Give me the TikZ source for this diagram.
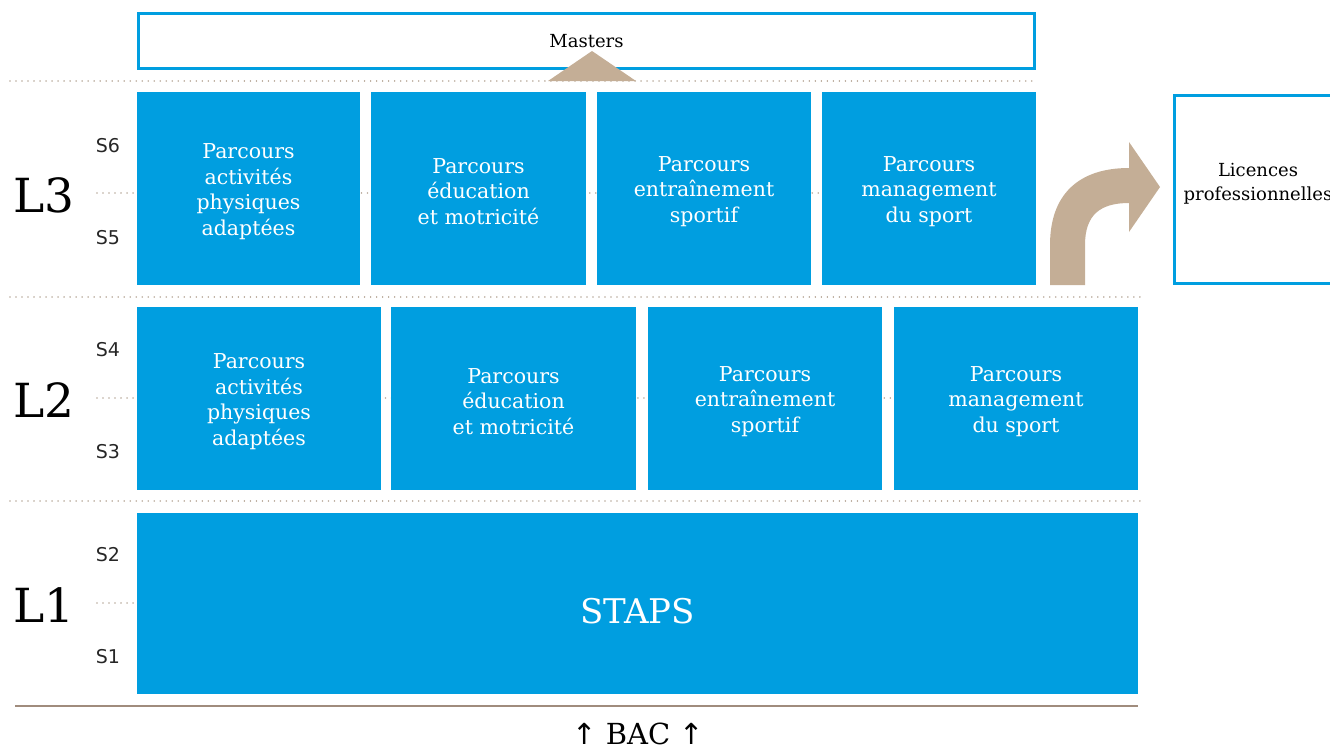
\documentclass[tikz,border=0pt]{standalone}
\usepackage{fontspec}
\setmainfont{DejaVu Serif}
\setsansfont{DejaVu Sans}
\definecolor{bblue}{RGB}{0,158,224}
\definecolor{tan}{RGB}{196,174,150}
\definecolor{dotc}{RGB}{185,170,155}
\definecolor{basec}{RGB}{160,140,125}
\tikzset{
  blk/.style={fill=bblue, draw=none, text=white, align=center, yshift=-3pt, font=\fontsize{20.5}{25.5}\selectfont},
  obox/.style={draw=bblue, line width=3pt, fill=white, align=center},
  dotl/.style={draw=dotc, line width=1.6pt, line cap=round, dash pattern=on 0.01pt off 6pt},
  lvl/.style={font=\fontsize{47}{47}\selectfont},
  sem/.style={font=\sffamily\fontsize{19}{19}\selectfont, text=black!85},
}
\begin{document}
\begin{tikzpicture}[x=1pt,y=-1pt]
\useasboundingbox (0,0) rectangle (1330,750);
% dotted lines
\draw[dotl] (10,81) -- (1036,81);
\draw[dotl] (10,297) -- (1140,297);
\draw[dotl] (10,501) -- (1140,501);
\draw[dotl] (97,193) -- (1036,193);
\draw[dotl] (97,398) -- (1140,398);
\draw[dotl] (97,603) -- (1140,603);
% Masters
\node[obox, minimum width=896pt, minimum height=55pt, font=\fontsize{18}{20}\selectfont] (masters) at (586.5,41) {Masters};
\fill[tan] (548,81) -- (592,51) -- (636,81) -- cycle;
% L3 boxes
\path[fill=bblue] (137,92) rectangle (360,285) node[pos=.5, blk] (a3) {Parcours\\activités\\physiques\\adaptées};
\path[fill=bblue] (371,92) rectangle (586,285) node[pos=.5, blk] (b3) {Parcours\\éducation\\et motricité};
\path[fill=bblue] (597,92) rectangle (811,285) node[pos=.5, blk] (c3) {Parcours\\entraînement\\sportif};
\path[fill=bblue] (822,92) rectangle (1036,285) node[pos=.5, blk] (d3) {Parcours\\management\\du sport};
% L2 boxes
\path[fill=bblue] (137,307) rectangle (381,490) node[pos=.5, blk] (a2) {Parcours\\activités\\physiques\\adaptées};
\path[fill=bblue] (391,307) rectangle (636,490) node[pos=.5, blk] (b2) {Parcours\\éducation\\et motricité};
\path[fill=bblue] (648,307) rectangle (882,490) node[pos=.5, blk] (c2) {Parcours\\entraînement\\sportif};
\path[fill=bblue] (894,307) rectangle (1138,490) node[pos=.5, blk] (d2) {Parcours\\management\\du sport};
% L1
\path[fill=bblue] (137,513) rectangle (1138,694) node[pos=.5, blk, yshift=-5pt, font=\fontsize{34}{34}\selectfont] (staps) {STAPS};
% base line
\draw[basec, line width=2pt] (15,706) -- (1138,706);
\node[font=\fontsize{29}{29}\selectfont] (bac) at (638,734) {\sffamily↑\ \rmfamily BAC \sffamily↑};
% Licences pro
\node[obox, minimum width=170pt, minimum height=188pt, anchor=north west, inner sep=0pt] (lp) at (1173,94) {};
\node[font=\fontsize{18}{24}\selectfont, align=center] (lpt) at (1258,184) {Licences\\professionnelles};
% curved arrow
\fill[tan] (1050,285) -- (1050,245) .. controls (1050,195) and (1078,168) .. (1129,168) -- (1129,142) -- (1160,187) -- (1129,232) -- (1129,203) .. controls (1100,203) and (1085,215) .. (1085,245) -- (1085,285) -- cycle;
% level labels
\node[lvl] (l3) at (44,195) {L3};
\node[lvl] (l2) at (44,400) {L2};
\node[lvl] (l1) at (44,605) {L1};
\node[sem] (s6) at (108,146) {S6};
\node[sem] (s5) at (108,238) {S5};
\node[sem] (s4) at (108,350) {S4};
\node[sem] (s3) at (108,452) {S3};
\node[sem] (s2) at (108,555) {S2};
\node[sem] (s1) at (108,657) {S1};
\end{tikzpicture}
\end{document}
